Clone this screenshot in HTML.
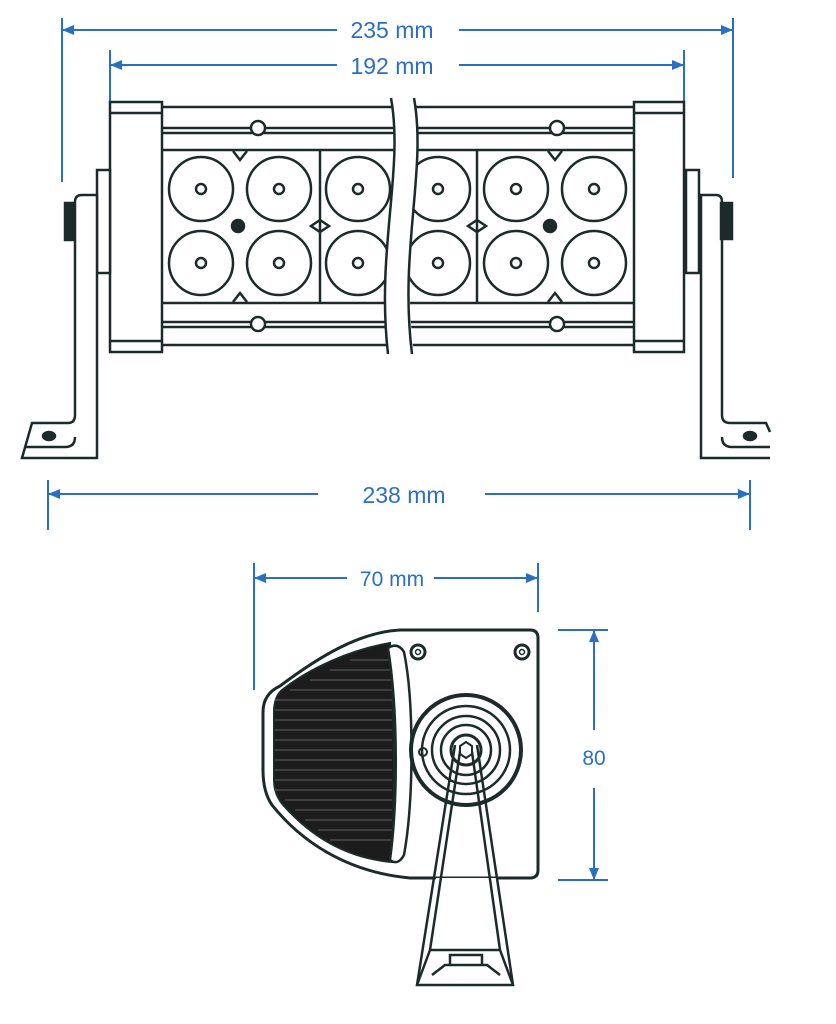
<!DOCTYPE html>
<html><head><meta charset="utf-8"><style>
html,body{margin:0;padding:0;background:#fff;}
svg{display:block;}
text{font-family:"Liberation Sans",Arial,sans-serif;fill:#2b6fc2;}
</style></head><body>
<svg width="836" height="1024" viewBox="0 0 836 1024" xmlns="http://www.w3.org/2000/svg">
<defs>
<marker id="ar" viewBox="0 0 12 10" refX="12" refY="5" markerWidth="12" markerHeight="10" markerUnits="userSpaceOnUse" orient="auto-start-reverse">
<path d="M0,0 L12,5 L0,10 Z" fill="#2b6fc2"/></marker>
<clipPath id="lc"><rect x="162" y="150" width="229" height="153"/></clipPath>
<clipPath id="rc"><rect x="410" y="150" width="224" height="153"/></clipPath>
</defs>

<g stroke="#2b6fc2" stroke-width="2" fill="none">
<line x1="62" y1="18" x2="62" y2="182"/><line x1="733" y1="18" x2="733" y2="178"/>
<line x1="110" y1="50" x2="110" y2="102"/><line x1="684" y1="50" x2="684" y2="102"/>
<line x1="62" y1="30" x2="337" y2="30" marker-start="url(#ar)"/>
<line x1="459" y1="30" x2="733" y2="30" marker-end="url(#ar)"/>
<line x1="110" y1="65" x2="337" y2="65" marker-start="url(#ar)"/>
<line x1="459" y1="65" x2="684" y2="65" marker-end="url(#ar)"/>
<line x1="48" y1="480" x2="48" y2="530"/><line x1="750" y1="480" x2="750" y2="530"/>
<line x1="48" y1="494" x2="318" y2="494" marker-start="url(#ar)"/>
<line x1="485" y1="494" x2="750" y2="494" marker-end="url(#ar)"/>
<line x1="254" y1="563" x2="254" y2="690"/><line x1="538" y1="563" x2="538" y2="612"/>
<line x1="254" y1="578" x2="347" y2="578" marker-start="url(#ar)"/>
<line x1="434" y1="578" x2="538" y2="578" marker-end="url(#ar)"/>
<line x1="558" y1="630" x2="608" y2="630"/><line x1="558" y1="880" x2="608" y2="880"/>
<line x1="594" y1="630" x2="594" y2="730" marker-start="url(#ar)"/>
<line x1="594" y1="788" x2="594" y2="880" marker-end="url(#ar)"/>
</g>
<text x="392" y="38" font-size="23" text-anchor="middle">235 mm</text>
<text x="392" y="74" font-size="23" text-anchor="middle">192 mm</text>
<text x="404" y="503" font-size="23" text-anchor="middle">238 mm</text>
<text x="392" y="586" font-size="21" text-anchor="middle">70 mm</text>
<text x="594" y="765" font-size="21" text-anchor="middle">80</text>

<g stroke="#1c2a2a" stroke-width="2.5" fill="none">
<line x1="162" y1="107" x2="634" y2="107"/><line x1="162" y1="128" x2="634" y2="128"/>
<line x1="162" y1="133" x2="634" y2="133"/><line x1="162" y1="150" x2="634" y2="150"/>
<line x1="162" y1="303" x2="634" y2="303"/><line x1="162" y1="322" x2="634" y2="322"/>
<line x1="162" y1="327" x2="634" y2="327"/><line x1="162" y1="345" x2="634" y2="345"/>
<circle cx="258" cy="128" r="7" fill="#fff"/><circle cx="557" cy="128" r="7" fill="#fff"/>
<circle cx="258" cy="324" r="7" fill="#fff"/><circle cx="557" cy="324" r="7" fill="#fff"/>
<line x1="320" y1="150" x2="320" y2="303"/><line x1="477" y1="150" x2="477" y2="303"/>
<g clip-path="url(#lc)">
<circle cx="201" cy="189" r="32"/><circle cx="279" cy="189" r="32"/><circle cx="358" cy="189" r="32"/>
<circle cx="201" cy="263" r="32"/><circle cx="279" cy="263" r="32"/><circle cx="358" cy="263" r="32"/>
<circle cx="201" cy="189" r="5"/><circle cx="279" cy="189" r="5"/><circle cx="358" cy="189" r="5"/>
<circle cx="201" cy="263" r="5"/><circle cx="279" cy="263" r="5"/><circle cx="358" cy="263" r="5"/>
</g>
<g clip-path="url(#rc)">
<circle cx="438" cy="189" r="32"/><circle cx="516" cy="189" r="32"/><circle cx="594" cy="189" r="32"/>
<circle cx="438" cy="263" r="32"/><circle cx="516" cy="263" r="32"/><circle cx="594" cy="263" r="32"/>
<circle cx="438" cy="189" r="5"/><circle cx="516" cy="189" r="5"/><circle cx="594" cy="189" r="5"/>
<circle cx="438" cy="263" r="5"/><circle cx="516" cy="263" r="5"/><circle cx="594" cy="263" r="5"/>
</g>
<path d="M311,226 L320,220 L329,226 L320,232 Z"/><path d="M468,226 L477,220 L486,226 L477,232 Z"/>
<path d="M233,151 L240,160 L247,151"/><path d="M233,302 L240,293 L247,302"/>
<path d="M548,151 L555,160 L562,151"/><path d="M548,302 L555,293 L562,302"/>
<circle cx="238" cy="226" r="6" fill="#1c2a2a"/><circle cx="550" cy="226" r="6" fill="#1c2a2a"/>
<path d="M391,98 C404,170 376,250 388,354 L414,354 C400,250 428,170 414,98 Z" fill="#fff" stroke="none"/>
<path d="M391,98 C404,170 376,250 388,354"/>
<path d="M414,98 C427,170 399,250 412,354"/>
<rect x="110" y="102" width="52" height="250" fill="#fff"/>
<line x1="110" y1="113" x2="162" y2="113"/><line x1="110" y1="341" x2="162" y2="341"/>
<rect x="634" y="102" width="50" height="250" fill="#fff"/>
<line x1="634" y1="113" x2="684" y2="113"/><line x1="634" y1="341" x2="684" y2="341"/>
<rect x="97" y="170" width="13" height="103" fill="#fff"/>
<rect x="65" y="203" width="10" height="37" fill="#1c2a2a"/>
<path d="M22,458 L97,458 L97,195 L82,195 Q75,195 75,202 L75,415 Q75,423 68,423 L32,423 Z" fill="#fff"/>
<path d="M26,447 L65,447 Q75,447 75,437"/>
<ellipse cx="49" cy="436" rx="6" ry="4" fill="#1c2a2a"/>
<rect x="686" y="170" width="13" height="103" fill="#fff"/>
<rect x="721" y="203" width="11" height="36" fill="#1c2a2a"/>
<path d="M770,458 L701,458 L701,195 L716,195 Q722,195 722,202 L722,415 Q722,423 730,423 L766,423 L770,432"/>
<path d="M770,447 L732,447 Q722,447 722,437"/>
<ellipse cx="750" cy="436" rx="6" ry="4" fill="#1c2a2a"/>
</g>

<g stroke="#1c2a2a" fill="none">
<path d="M400,630 L530,630 Q538,630 538,638 L538,870 Q538,878 530,878 L410,878 C345,872 300,840 272,805 Q263,792 263,770 L263,712 Q263,694 280,686 C320,656 360,632 400,630 Z" stroke-width="3" fill="#fff"/>
<path d="M390,643 C350,650 310,668 282,690 Q274,697 274,712 L274,780 Q274,795 284,806 C310,835 345,858 392,862 C395,790 395,720 390,643 Z" fill="#1c1c1c" stroke-width="2"/>
<g stroke="#fff" stroke-width="1" opacity="0.3">
<line x1="275" y1="700" x2="392" y2="700"/><line x1="275" y1="710" x2="392" y2="710"/><line x1="275" y1="720" x2="392" y2="720"/>
<line x1="275" y1="730" x2="392" y2="730"/><line x1="275" y1="740" x2="392" y2="740"/><line x1="275" y1="750" x2="392" y2="750"/>
<line x1="275" y1="760" x2="392" y2="760"/><line x1="275" y1="770" x2="392" y2="770"/><line x1="275" y1="780" x2="392" y2="780"/>
<line x1="275" y1="790" x2="392" y2="790"/><line x1="285" y1="800" x2="392" y2="800"/><line x1="295" y1="810" x2="392" y2="810"/>
<line x1="305" y1="820" x2="392" y2="820"/><line x1="318" y1="830" x2="392" y2="830"/><line x1="330" y1="840" x2="392" y2="840"/>
<line x1="290" y1="690" x2="392" y2="690"/><line x1="310" y1="680" x2="392" y2="680"/><line x1="330" y1="670" x2="392" y2="670"/>
<line x1="350" y1="660" x2="392" y2="660"/>
</g>
<path d="M388,648 Q398,642 404,652 C414,700 414,800 404,855 Q398,866 390,860 C398,800 398,710 388,648 Z" fill="#fff" stroke-width="2.5"/>
<circle cx="418" cy="652" r="7" stroke-width="3"/><circle cx="418" cy="652" r="2.5" stroke-width="1.5"/>
<circle cx="522" cy="652" r="7" stroke-width="3"/><circle cx="522" cy="652" r="2.5" stroke-width="1.5"/>
<circle cx="466" cy="750" r="55" stroke-width="4" fill="#fff"/>
<circle cx="466" cy="750" r="44" stroke-width="2.5"/>
<circle cx="466" cy="750" r="34" stroke-width="2.5"/>
<circle cx="466" cy="750" r="25" stroke-width="2.5"/>
<circle cx="466" cy="750" r="15" stroke-width="3"/>
<circle cx="423" cy="752" r="4" stroke-width="2"/>
<path d="M436,878 L417,985 L513,985 L496,878 Z" fill="#fff" stroke="none"/>
<path d="M455,745 L417,985 L513,985 L477,745" stroke-width="2.5"/>
<path d="M461,745 L430,950 L500,950 L471,745" stroke-width="2.5"/>
<polygon points="466,742 472,746 472,754 466,758 460,754 460,746" stroke-width="2" fill="#fff"/>
<path d="M417,985 L430,950 M513,985 L500,950 M432,975 L445,965 L487,965 L500,975 M450,965 L450,955 L482,955 L482,965" stroke-width="2.5"/>
</g>
</svg>
</body></html>
